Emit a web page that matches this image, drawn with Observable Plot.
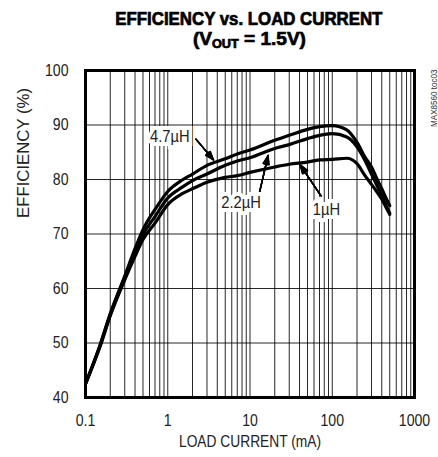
<!DOCTYPE html>
<html>
<head>
<meta charset="utf-8">
<script src="https://cdn.jsdelivr.net/npm/d3@7"></script>
<script src="https://cdn.jsdelivr.net/npm/@observablehq/plot@0.6"></script>
<style>
  html, body { margin: 0; padding: 0; background: #fff; }
  #wrap { width: 438px; height: 457px; position: relative; overflow: hidden; }
  .title { position: absolute; white-space: nowrap; font-family: "Liberation Sans", Arial, sans-serif;
    font-weight: bold; font-size: 18px; line-height: 18px; color: #000; -webkit-text-stroke: 0.7px #000;
    transform-origin: center center; }
  .title sub { font-size: 12px; vertical-align: -3px; line-height: 0; }
  #chart { position: absolute; left: 0; top: 56px; }
</style>
</head>
<body>
<div id="wrap">
  <span class="title" id="t1">EFFICIENCY vs. LOAD CURRENT</span>
  <span class="title" id="t2">(V<sub>OUT</sub> = 1.5V)</span>
  <div id="chart"></div>
</div>
<script>
// Load current (mA)
const current = [0.1, 0.15, 0.2, 0.3, 0.4, 0.5, 0.7, 1, 1.5, 2, 3, 5, 7, 10, 20, 30, 50, 70, 100, 150, 200, 250, 300, 350, 400, 450, 500];
// Efficiency (%) per inductor
const eff47 = [42.5, 49.6, 55.4, 62.3, 67.3, 70.8, 74.5, 77.8, 79.9, 81.0, 82.6, 83.8, 84.7, 85.4, 87.2, 88.1, 89.2, 89.7, 89.9, 89.1, 86.8, 84.1, 82.3, 80.1, 78.3, 76.6, 75.2];
const eff22 = [42.5, 49.5, 55.2, 62.0, 66.6, 69.9, 73.2, 76.6, 78.6, 79.8, 81.0, 82.6, 83.4, 84.0, 85.7, 86.4, 87.5, 88.1, 88.4, 87.8, 86.0, 83.5, 81.0, 78.9, 77.1, 75.3, 73.8];
const eff1  = [42.5, 49.3, 55.0, 61.6, 65.9, 69.0, 72.0, 75.4, 77.4, 78.3, 79.5, 80.4, 80.7, 81.3, 82.3, 82.8, 83.2, 83.6, 83.7, 83.9, 82.9, 80.7, 79.1, 77.7, 76.4, 74.9, 73.6];
const seriesNames = ["4.7µH", "2.2µH", "1µH"];

// Axis ticks
const xTicks = [0.1, 1, 10, 100, 1000];
const xTickLabels = ["0.1", "1", "10", "100", "1000"];
const yTicks = [40, 50, 60, 70, 80, 90, 100];

// Annotation labels (data units) and arrows
const labelText = ["4.7µH", "2.2µH", "1µH"];
const labelX = [1.06, 7.8, 85];
const labelY = [87.9, 75.8, 74.4];
const arrowFromX = [2.2, 12.9, 73];
const arrowFromY = [87.4, 77.3, 77.0];
const arrowToX = [3.6, 16.6, 40.7];
const arrowToY = [83.6, 84.4, 82.7];

const allSeries = [eff47, eff22, eff1];
const rows = [];
allSeries.forEach((s, k) => s.forEach((v, i) => rows.push({name: seriesNames[k], x: current[i], y: v})));

const gridX = [];
for (let d = 0.1; d < 1000; d *= 10) for (let m = 1; m < 10; m++) gridX.push(+(d * m).toPrecision(3));
const labels = labelText.map((t, i) => ({t, x: labelX[i], y: labelY[i]}));
const arrows = labelText.map((t, i) => ({x1: arrowFromX[i], y1: arrowFromY[i], x2: arrowToX[i], y2: arrowToY[i]}));

const font = '"Liberation Sans", Arial, sans-serif';
const headMarks = [40, 32, 24, 16, 8].map(a => Plot.arrow(arrows, {x1: "x1", y1: "y1", x2: "x2", y2: "y2", stroke: "black", strokeWidth: 1.4, headAngle: a, headLength: 10}));
const fmtX = (d) => xTickLabels[xTicks.indexOf(d)];

const plot = Plot.plot({
  width: 438,
  height: 401,
  marginLeft: 85,
  marginRight: 24,
  marginTop: 14,
  marginBottom: 60,
  style: {fontFamily: font, fontSize: "16px", color: "#000", background: "white"},
  x: {type: "log", domain: [0.1, 1000], ticks: xTicks, tickFormat: fmtX, tickSize: 0, label: null},
  y: {domain: [40, 100], ticks: yTicks, tickSize: 0, label: null},
  marks: [
    Plot.ruleX(gridX, {stroke: "#000", strokeWidth: 1, strokeOpacity: 0.85}),
    Plot.ruleY(yTicks, {stroke: "#000", strokeWidth: 1, strokeOpacity: 0.85}),
    Plot.line(rows, {x: "x", y: "y", z: "name", stroke: "black", strokeWidth: 3.2, curve: "monotone-x"}),
    ...headMarks,
    Plot.text(labels, {x: "x", y: "y", text: "t", fontSize: 16, stroke: "white", strokeWidth: 8, fill: "#222", strokeLinejoin: "miter", className: "lab"}),
    Plot.frame({stroke: "black", strokeWidth: 3}),
    Plot.axisX({ticks: xTicks, tickFormat: fmtX, tickSize: 0, tickPadding: 17, fontSize: 16, label: null, fill: "#222", className: "tick"}),
    Plot.axisY({ticks: yTicks, tickSize: 0, tickPadding: 17, fontSize: 16, label: null, fill: "#222", className: "tick"}),
    Plot.text(["EFFICIENCY (%)"], {frameAnchor: "left", dx: -62, dy: -16, rotate: -90, fontSize: 16, fill: "#222", className: "ylab"}),
    Plot.text(["LOAD CURRENT (mA)"], {frameAnchor: "bottom", dy: 49, fontSize: 16, fill: "#222", className: "xlab"}),
    Plot.text(["MAX8560 toc03"], {frameAnchor: "top-right", dx: 16, dy: -1, rotate: -90, textAnchor: "end", fontSize: 9.5, fill: "#333", className: "code"})
  ]
});
document.getElementById("chart").appendChild(plot);

// Condense text to mimic a narrow Helvetica
function condense(sel, f, target) {
  plot.querySelectorAll(sel + " text").forEach(el => {
    const L = el.getComputedTextLength();
    el.setAttribute("textLength", target ? target : L * f);
    el.setAttribute("lengthAdjust", "spacingAndGlyphs");
  });
}
condense(".tick", 0.88);
condense(".lab", 0.92);
condense(".ylab", 1, 130);
condense(".xlab", 1, 142);
condense(".code", 0.85);

function fit(id, targetW, cx, top) {
  const el = document.getElementById(id);
  const w = el.getBoundingClientRect().width;
  el.style.left = (cx - w / 2) + "px";
  el.style.top = top + "px";
  el.style.transform = `scaleX(${targetW / w})`;
}
fit("t1", 267, 249, 10);
fit("t2", 113, 249, 30);
</script>
</body>
</html>
